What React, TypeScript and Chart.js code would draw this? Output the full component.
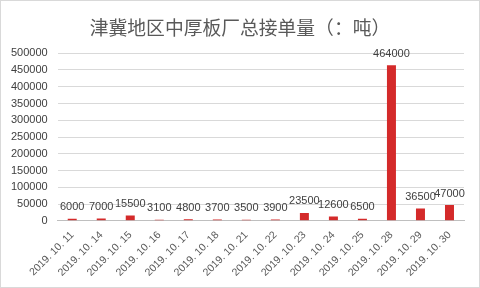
import React, { useEffect, useRef } from "react";
import { Chart, registerables } from "chart.js";

Chart.register(...registerables);

const categories = [
  "2019. 10. 11", "2019. 10. 14", "2019. 10. 15", "2019. 10. 16", "2019. 10. 17",
  "2019. 10. 18", "2019. 10. 21", "2019. 10. 22", "2019. 10. 23", "2019. 10. 24",
  "2019. 10. 25", "2019. 10. 28", "2019. 10. 29", "2019. 10. 30",
];
const values = [6000, 7000, 15500, 3100, 4800, 3700, 3500, 3900, 23500, 12600, 6500, 464000, 36500, 47000];
const titleText = "津冀地区中厚板厂总接单量（：吨）";
const FONT = "'Liberation Sans', 'Noto Sans CJK SC', sans-serif";
const TITLE_FONT = "'Noto Sans CJK SC', sans-serif";

const labelPlugin = {
  id: "valueLabels",
  afterDatasetsDraw(chart: any) {
    const ctx = chart.ctx;
    const meta = chart.getDatasetMeta(0);
    ctx.save();
    ctx.font = "11px " + FONT;
    ctx.fillStyle = "#404040";
    ctx.textAlign = "center";
    ctx.textBaseline = "bottom";
    meta.data.forEach((bar: any, i: number) => {
      ctx.fillText(String(values[i]), bar.x, bar.y - 6);
    });
    // title drawn centered on the full canvas
    const t = chart.titleBlock;
    ctx.font = "18.8px " + TITLE_FONT;
    ctx.fillStyle = "#595959";
    ctx.textAlign = "center";
    ctx.textBaseline = "middle";
    ctx.fillText(titleText, chart.width / 2, (t.top + t.bottom) / 2 + 1);
    ctx.restore();
  },
};

export default function App() {
  const ref = useRef<HTMLCanvasElement>(null);
  useEffect(() => {
    document.body.style.margin = "0";
    const c = ref.current!;
    const chart = new Chart(c, {
      type: "bar",
      data: {
        labels: categories,
        datasets: [
          {
            data: values,
            backgroundColor: (ctx: any) => {
              const ch = ctx.chart;
              const el = ch.getDatasetMeta(0).data[ctx.dataIndex];
              if (!el || !isFinite(el.x)) return "#d42a2a";
              const g = ch.ctx.createLinearGradient(el.x - 5, 0, el.x + 5, 0);
              g.addColorStop(0, "#9e1a1a");
              g.addColorStop(0.55, "#e63232");
              g.addColorStop(1, "#d02525");
              return g;
            },
            barPercentage: 0.31,
            categoryPercentage: 1,
          },
        ],
      },
      options: {
        animation: false,
        responsive: false,
        layout: { padding: { left: 0, right: 15, top: 0, bottom: 0 } },
        plugins: {
          legend: { display: false },
          tooltip: { enabled: false },
          title: {
            display: true,
            text: titleText,
            color: "rgba(0,0,0,0)",
            font: { family: TITLE_FONT, size: 18.5, weight: "normal" },
            padding: { top: 16, bottom: 14 },
          },
        },
        scales: {
          x: {
            grid: { display: false, drawTicks: false },
            border: { color: "#bfbfbf" },
            ticks: {
              color: "#595959",
              font: { family: FONT, size: 10.5 },
              minRotation: 45,
              maxRotation: 45,
              padding: 8,
              autoSkip: false,
            },
          },
          y: {
            min: 0,
            max: 500000,
            grid: { color: "#d9d9d9", drawTicks: false },
            border: { display: false },
            ticks: {
              stepSize: 50000,
              autoSkip: false,
              color: "#404040",
              font: { family: FONT, size: 11 },
              padding: 10,
              callback: (v: any) => String(v),
            },
          },
        },
      },
      plugins: [labelPlugin],
    });
    return () => chart.destroy();
  }, []);
  return (
    <div style={{ width: 480, height: 288, boxSizing: "border-box", border: "1px solid #d9d9d9", background: "#fff" }}>
      <canvas ref={ref} width={478} height={286} style={{ display: "block" }} />
    </div>
  );
}
